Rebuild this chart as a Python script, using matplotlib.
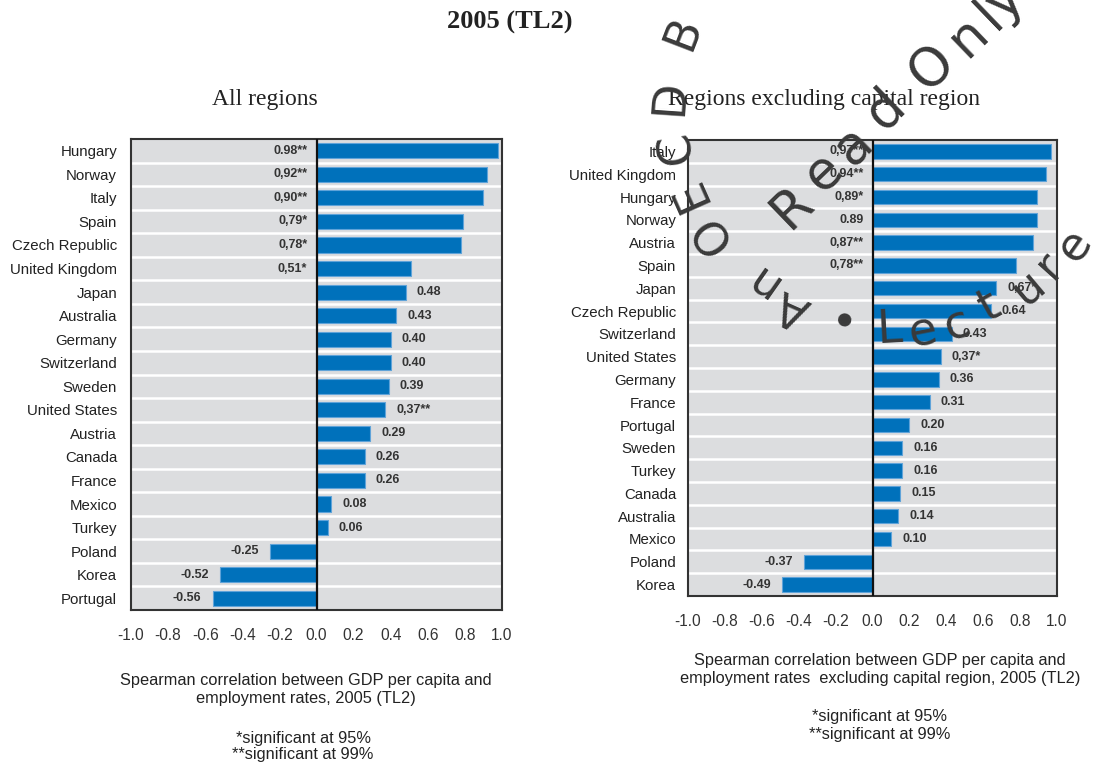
import matplotlib
matplotlib.use("Agg")
import matplotlib.pyplot as plt
import numpy as np

W, H = 1094, 765

# ---- data -------------------------------------------------------------
all_countries = ["Hungary", "Norway", "Italy", "Spain", "Czech Republic",
                 "United Kingdom", "Japan", "Australia", "Germany",
                 "Switzerland", "Sweden", "United States", "Austria",
                 "Canada", "France", "Mexico", "Turkey", "Poland", "Korea",
                 "Portugal"]
all_values = [0.98, 0.92, 0.90, 0.79, 0.78, 0.51, 0.48, 0.43, 0.40, 0.40,
              0.39, 0.37, 0.29, 0.26, 0.26, 0.08, 0.06, -0.25, -0.52, -0.56]
all_labels = ["0.98**", "0,92**", "0,90**", "0,79*", "0,78*", "0,51*",
              "0.48", "0.43", "0.40", "0.40", "0.39", "0,37**", "0.29",
              "0.26", "0.26", "0.08", "0.06", "-0.25", "-0.52", "-0.56"]

excl_countries = ["Italy", "United Kingdom", "Hungary", "Norway", "Austria",
                  "Spain", "Japan", "Czech Republic", "Switzerland",
                  "United States", "Germany", "France", "Portugal", "Sweden",
                  "Turkey", "Canada", "Australia", "Mexico", "Poland", "Korea"]
excl_values = [0.97, 0.94, 0.89, 0.89, 0.87, 0.78, 0.67, 0.64, 0.43, 0.37,
               0.36, 0.31, 0.20, 0.16, 0.16, 0.15, 0.14, 0.10, -0.37, -0.49]
excl_labels = ["0,97**", "0,94**", "0,89*", "0.89", "0,87**", "0,78**",
               "0,67*", "0.64", "0.43", "0,37*", "0.36", "0.31", "0.20",
               "0.16", "0.16", "0.15", "0.14", "0.10", "-0.37", "-0.49"]

x_ticks = [-1.0, -0.8, -0.6, -0.4, -0.2, 0.0, 0.2, 0.4, 0.6, 0.8, 1.0]

# ---- style ------------------------------------------------------------
SANS = ["Liberation Sans", "DejaVu Sans"]
SERIF = ["Liberation Serif", "DejaVu Serif"]
BAR = "#0071bb"
BAR_EDGE = "#5fa3d9"
PANEL = "#dcdddf"
TEXT = "#222222"
MARK = "#3a3a3a"

fig = plt.figure(figsize=(W / 100, H / 100), dpi=100)
fig.patch.set_facecolor("white")


def fx(x):
    return x / W


def fy(y):
    return 1 - y / H


def panel(rect, countries, values, labels, n_inside, ylab_pad):
    ax = fig.add_axes(rect)
    n = len(countries)
    pos = np.arange(n)
    ax.set_facecolor(PANEL)
    ax.barh(pos, values, height=0.64, color=BAR, edgecolor=BAR_EDGE,
            linewidth=0.8, zorder=3)
    for b in np.arange(n - 1) + 0.5:
        ax.axhline(b, color="white", lw=1.8, zorder=2)
    ax.axvline(0, color="#111111", lw=1.6, zorder=4)
    ax.set_xlim(-1.0, 1.0)
    ax.set_ylim(n - 0.5, -0.5)
    ax.set_yticks(pos)
    ax.set_yticklabels(countries, fontfamily=SANS, fontsize=10.8, color=TEXT)
    ax.set_xticks(x_ticks)
    ax.set_xticklabels([f"{t:.1f}" for t in x_ticks], fontfamily=SANS,
                       fontsize=11.2, color="#333333")
    ax.tick_params(axis="x", length=0, pad=13)
    ax.tick_params(axis="y", length=0, pad=ylab_pad)
    for s in ax.spines.values():
        s.set_color("#333333")
        s.set_linewidth(1.5)
    for i, (v, lab) in enumerate(zip(values, labels)):
        if i < n_inside:
            x, ha = -0.05, "right"
        elif v >= 0:
            x, ha = v + 0.06, "left"
        else:
            x, ha = v - 0.06, "right"
        ax.text(x, i, lab, ha=ha, va="center", fontfamily=SANS,
                fontweight="bold", fontsize=9, color="#333333", zorder=5)
    return ax


panel([fx(131), fy(610), (502 - 131) / W, (610 - 139) / H],
      all_countries, all_values, all_labels, 6, 10)
panel([fx(688), fy(596), (1057 - 688) / W, (596 - 140) / H],
      excl_countries, excl_values, excl_labels, 6, 8.5)

# ---- titles and notes ---------------------------------------------------
fig.text(fx(510), fy(22), "2005 (TL2)", ha="center", va="center",
         fontfamily=SERIF, fontweight="bold", fontsize=19, color=TEXT)
fig.text(fx(265), fy(99), "All regions", ha="center", va="center",
         fontfamily=SERIF, fontsize=17, color=TEXT)
fig.text(fx(824), fy(99), "Regions excluding capital region", ha="center",
         va="center", fontfamily=SERIF, fontsize=17, color=TEXT)

note_kw = dict(ha="center", va="center", fontfamily=SANS, fontsize=11.8,
               color=TEXT)
fig.text(fx(306), fy(681), "Spearman correlation between GDP per capita and",
         **note_kw)
fig.text(fx(306), fy(699), "employment rates, 2005 (TL2)", **note_kw)
fig.text(fx(303), fy(738), "*significant at 95%", **note_kw)
fig.text(fx(303), fy(755), "**significant at 99%", **note_kw)

fig.text(fx(880), fy(660), "Spearman correlation between GDP per capita and",
         **note_kw)
fig.text(fx(880), fy(679),
         "employment rates  excluding capital region, 2005 (TL2)", **note_kw)
fig.text(fx(880), fy(717), "*significant at 95%", **note_kw)
fig.text(fx(880), fy(735), "**significant at 99%", **note_kw)

# ---- stamp overlay -------------------------------------------------------
stamp_arc = [("A", 793, 307, 156), ("n", 760, 280, 145), ("O", 712, 233, 126),
             ("E", 690, 193, 114), ("C", 677, 147, 100), ("D", 670, 97, 86),
             ("B", 683, 33, 69),
             ("•", 843, 326, -10), ("L", 890, 330, 3), ("e", 923, 333, 11),
             ("c", 957, 326, 19), ("t", 990, 307, 29), ("u", 1028, 288, 40),
             ("r", 1050, 266, 48), ("e", 1075, 246, 55)]
for ch, x, y, rot in stamp_arc:
    fig.text(fx(x), fy(y), ch, ha="center", va="center", rotation=rot,
             rotation_mode="anchor", fontfamily="DejaVu Sans", fontsize=33,
             color=MARK, zorder=10)

stamp_mid = [("R", 792, 207), ("e", 823, 172), ("a", 853, 145),
             ("d", 885, 110), ("O", 932, 67), ("n", 968, 37), ("l", 990, 15),
             ("y", 1005, 0)]
for ch, x, y in stamp_mid:
    fig.text(fx(x), fy(y), ch, ha="center", va="center", rotation=44,
             rotation_mode="anchor", fontfamily="DejaVu Sans", fontsize=38,
             color=MARK, zorder=10)

fig.savefig("out.png", dpi=100)
